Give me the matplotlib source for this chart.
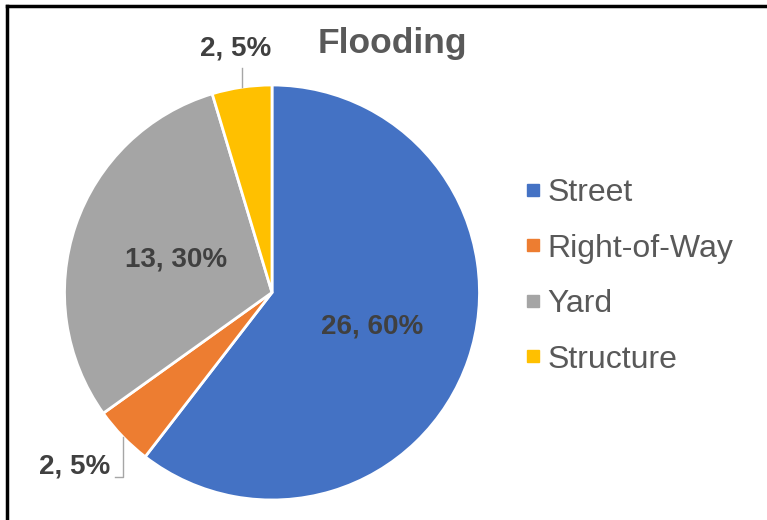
import numpy as np
import matplotlib.pyplot as plt
from matplotlib.lines import Line2D

plt.rcParams['font.family'] = ['Liberation Sans', 'DejaVu Sans']

# flooding complaints by location
categories = ["Street", "Right-of-Way", "Yard", "Structure"]
counts = [26, 2, 13, 2]
colors = ["#4472C4", "#ED7D31", "#A5A5A5", "#FFC000"]

W, H = 767, 520
fig = plt.figure(figsize=(W / 100, H / 100), dpi=100)
ax = fig.add_axes([0, 0, 1, 1])

cx, cy, r = 272, 227.5, 207.5
wedges, _ = ax.pie(counts, colors=colors, startangle=90, counterclock=False,
                   center=(cx, cy), radius=r, frame=True,
                   wedgeprops=dict(edgecolor="white", linewidth=2))
ax.set_xlim(0, W)
ax.set_ylim(0, H)
ax.set_aspect("equal")
ax.axis("off")

total = sum(counts)
# label distance (in radii) and angular nudge (degrees) per slice
label_dist = [0.51, 1.27, 0.49, 1.19]
label_turn = [0, -2.5, 0, 0]
for w, n, d, t in zip(wedges, counts, label_dist, label_turn):
    mid = np.deg2rad((w.theta1 + w.theta2) / 2)
    pct = round(100 * n / total)
    ang = mid + np.deg2rad(t)
    tx, ty = cx + d * r * np.cos(ang), cy + d * r * np.sin(ang)
    ax.text(tx, ty, f"{n}, {pct}%", ha="center", va="center",
            fontsize=20, fontweight="bold", color="#404040")
    if d > 1:
        # leader line from the wedge edge to the label
        ex, ey = cx + r * np.cos(mid), cy + r * np.sin(mid)
        if ty > cy:
            ax.plot([ex, ex], [ey, ty - 20], color="#A6A6A6", lw=1)
        else:
            ax.plot([ex, ex, ex - 8], [ey, ty - 10, ty - 10],
                    color="#A6A6A6", lw=1)

fig.text(392 / W, 1 - 43 / H, "Flooding", ha="center", va="center",
         fontsize=25.5, fontweight="bold", color="#595959")

handles = [Line2D([], [], ls="none", marker="s", markersize=8,
                  markerfacecolor=c, markeredgecolor=c) for c in colors]
fig.legend(handles, categories, loc="upper left",
           bbox_to_anchor=(509 / W, 1 - 162 / H), frameon=False,
           fontsize=23, labelcolor="#595959", handlelength=0.5,
           handletextpad=0.2, labelspacing=0.8, borderpad=0)

# outer frame along the top and left edges
ax.plot([7, W], [H - 6, H - 6], color="black", lw=2.5, clip_on=False)
ax.plot([7, 7], [0, H - 6], color="black", lw=2.5, clip_on=False)

fig.savefig("out.png", dpi=100)
